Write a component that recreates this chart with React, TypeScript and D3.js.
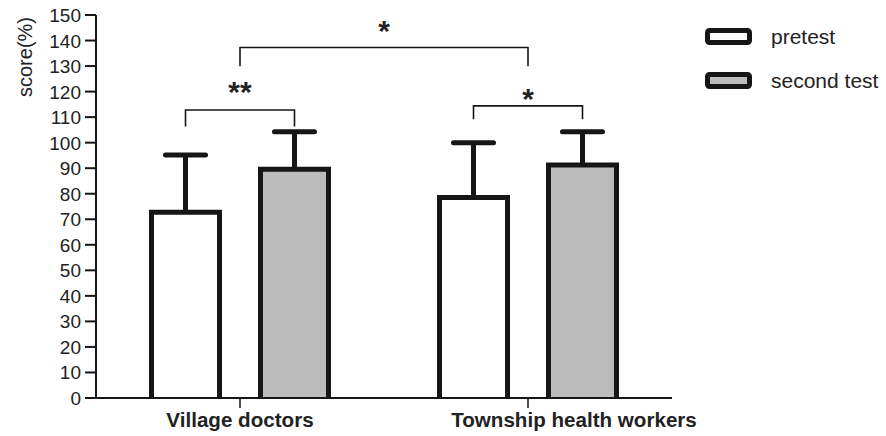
import React from "react";
import * as d3 from "d3";

const categories = ["Village doctors", "Township health workers"];
const seriesNames = ["pretest", "second test"];
const pretest = [72.7, 78.5];
const pretestUpper = [95.2, 100];
const secondTest = [89.6, 91.3];
const secondUpper = [104.3, 104.3];
const yTicks = d3.range(0, 151, 10);
// significance brackets: [fromCategory, fromSeries, toCategory, toSeries, lineValue, legValue, label]
const brackets: [number, number, number, number, number, number, string][] = [
  [0, 0, 0, 1, 112.8, 106.3, "**"],
  [1, 0, 1, 1, 114.4, 109.2, "*"],
  [0, -1, 1, -1, 137.3, 129.9, "*"],
];

const W = 886;
const H = 436;
const FONT = "'Liberation Sans', Arial, sans-serif";
const INK = "#161616";
const labelShift = [0, 46];

export default function App() {
  const y = d3.scaleLinear().domain([0, 150]).range([398, 15]);
  const x = d3.scaleBand<string>().domain(categories).range([96, 672]).paddingInner(0).paddingOuter(0);
  const sub = d3.scaleBand<string>().domain(seriesNames).range([-88.5, 88.5]).paddingInner(0.376).paddingOuter(0);
  const bw = sub.bandwidth();
  const values = [pretest, secondTest];
  const uppers = [pretestUpper, secondUpper];
  const fills = ["#ffffff", "#bcbcbc"];
  const cx = (ci: number) => (x(categories[ci]) as number) + x.bandwidth() / 2;
  const barCenter = (ci: number, si: number) =>
    si < 0 ? cx(ci) : cx(ci) + (sub(seriesNames[si]) as number) + bw / 2;

  return (
    <svg width={W} height={H} style={{ position: "absolute", left: 0, top: 0, background: "#fff" }} fontFamily={FONT}>
      {/* bars */}
      {categories.map((c, ci) =>
        seriesNames.map((s, si) => {
          const x0 = cx(ci) + (sub(s) as number);
          const x1 = x0 + bw;
          const yt = y(values[si][ci]);
          const yb = y(0);
          const mid = (x0 + x1) / 2;
          const yu = y(uppers[si][ci]);
          return (
            <g key={c + s}>
              <line x1={mid} x2={mid} y1={yt} y2={yu} stroke={INK} strokeWidth={5} />
              <line x1={mid - 20} x2={mid + 20} y1={yu} y2={yu} stroke={INK} strokeWidth={5} strokeLinecap="round" />
              <path d={`M${x0},${yb} V${yt} H${x1} V${yb} Z`} fill={fills[si]} stroke="none" />
              <path
                d={`M${x0},${yb} V${yt} H${x1} V${yb}`}
                fill="none"
                stroke={INK}
                strokeWidth={5}
                strokeLinejoin="miter"
              />
            </g>
          );
        })
      )}
      {/* axes */}
      <line x1={96} x2={96} y1={y(150)} y2={y(0) + 1} stroke={INK} strokeWidth={2} />
      <line x1={95} x2={672} y1={y(0)} y2={y(0)} stroke={INK} strokeWidth={2} />
      {yTicks.map((t) => (
        <g key={t}>
          <line x1={85} x2={96} y1={y(t)} y2={y(t)} stroke={INK} strokeWidth={2} />
          <text x={81} y={y(t) + 7} textAnchor="end" fontSize={19} fill="#222">
            {t}
          </text>
        </g>
      ))}
      {categories.map((c, ci) => (
        <g key={c}>
          <line x1={cx(ci)} x2={cx(ci)} y1={y(0)} y2={y(0) + 10} stroke={INK} strokeWidth={1.5} />
          <text x={cx(ci) + labelShift[ci]} y={427} textAnchor="middle" fontSize={20.6} fontWeight="bold" fill="#222">
            {c}
          </text>
        </g>
      ))}
      <text transform={`translate(32,57) rotate(-90)`} textAnchor="middle" fontSize={20} fill="#222">
        score(%)
      </text>
      {/* significance */}
      {brackets.map(([c0, s0, c1, s1, lv, leg, label], i) => {
        const xa = barCenter(c0, s0);
        const xb = barCenter(c1, s1);
        const yl = y(lv);
        const yg = y(leg);
        const starY = i === 2 ? 24 : i === 0 ? 85 : 92;
        return (
          <g key={i}>
            <path d={`M${xa},${yg} V${yl} H${xb} V${yg}`} fill="none" stroke={INK} strokeWidth={1.6} />
            <text x={(xa + xb) / 2} y={starY + 17} textAnchor="middle" fontSize={30} fontWeight="bold" fill="#222">
              {label}
            </text>
          </g>
        );
      })}
      {/* legend */}
      {seriesNames.map((s, si) => (
        <g key={s} transform={`translate(0,${si * 44})`}>
          <rect x={707.5} y={30.5} width={42} height={12} rx={2} fill={fills[si]} stroke={INK} strokeWidth={5} />
          <text x={771} y={44} fontSize={21} fill="#222">
            {s}
          </text>
        </g>
      ))}
    </svg>
  );
}
